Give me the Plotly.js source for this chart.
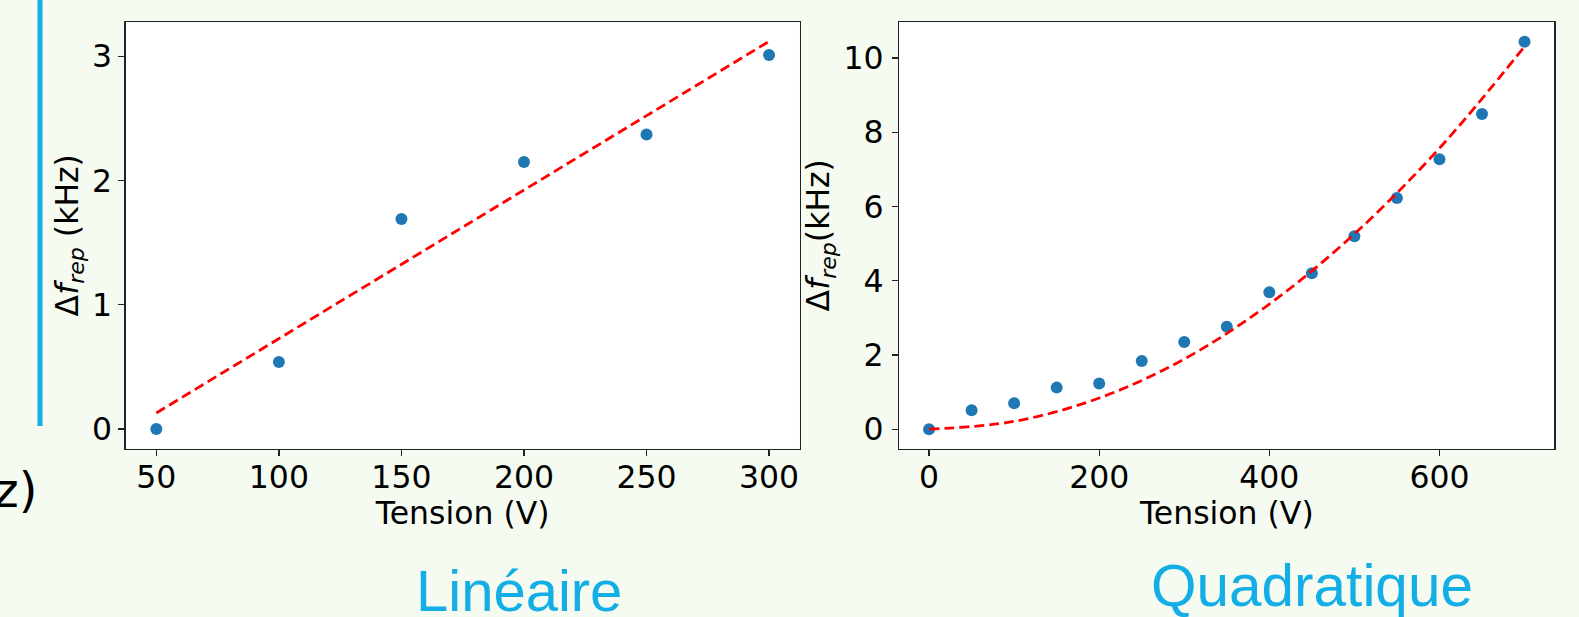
<!DOCTYPE html>
<html>
<head>
<meta charset="utf-8">
<script src="https://cdn.plot.ly/plotly-3.0.1.min.js"></script>
<style>
  html, body { margin: 0; padding: 0; background: #f5fbf1; }
  #chart { width: 1579px; height: 617px; }
</style>
</head>
<body>
<div id="chart"></div>
<script>
// Linear panel data
const linX = [50, 100, 150, 200, 250, 300];
const linY = [0.0, 0.54, 1.69, 2.15, 2.37, 3.01];
const linFitX = [50, 300];
const linFitY = [0.13, 3.12];

// Quadratic panel data
const quadX = [0, 50, 100, 150, 200, 250, 300, 350, 400, 450, 500, 550, 600, 650, 700];
const quadY = [0.0, 0.51, 0.70, 1.12, 1.23, 1.84, 2.35, 2.76, 3.69, 4.20, 5.20, 6.23, 7.27, 8.49, 10.44];
const quadFitX = [0, 100, 200, 300, 400, 500, 600, 700];
const quadFitY = [0.0, 0.21, 0.84, 1.89, 3.37, 5.26, 7.57, 10.31];

// Tick labels
const linXTicks = [50, 100, 150, 200, 250, 300];
const linYTicks = [0, 1, 2, 3];
const quadXTicks = [0, 200, 400, 600];
const quadYTicks = [0, 2, 4, 6, 8, 10];

const W = 1579, H = 617;
const px = v => v / W;
const py = v => 1 - v / H;

const markerStyle = { color: '#1f77b4', size: 12 };
const fitLine = { color: '#ff0000', width: 2.8, dash: '10px,5px' };

const traces = [
  { x: linX, y: linY, type: 'scatter', mode: 'markers', marker: markerStyle, xaxis: 'x', yaxis: 'y', hoverinfo: 'skip' },
  { x: linFitX, y: linFitY, type: 'scatter', mode: 'lines', line: fitLine, xaxis: 'x', yaxis: 'y', hoverinfo: 'skip' },
  { x: quadX, y: quadY, type: 'scatter', mode: 'markers', marker: markerStyle, xaxis: 'x2', yaxis: 'y2', hoverinfo: 'skip' },
  { x: quadFitX, y: quadFitY, type: 'scatter', mode: 'lines', line: Object.assign({}, fitLine, { shape: 'spline', smoothing: 1 }), xaxis: 'x2', yaxis: 'y2', hoverinfo: 'skip' }
];

const font = { family: 'DejaVu Sans', size: 31.5, color: '#000' };
const axisBase = {
  showgrid: false, zeroline: false, showline: true, mirror: true,
  linecolor: '#222', linewidth: 1.4,
  ticks: 'outside', ticklen: 6, tickwidth: 1.3, tickcolor: '#222',
  tickfont: font, automargin: false, fixedrange: true
};

const yDomain = [py(448.5), py(22)];

const layout = {
  width: W, height: H,
  margin: { l: 0, r: 0, t: 0, b: 0 },
  paper_bgcolor: '#f5fbf1',
  plot_bgcolor: '#ffffff',
  showlegend: false,
  font: font,
  xaxis: Object.assign({}, axisBase, {
    domain: [px(125.7), px(799.7)], range: [37.5, 312.5],
    tickvals: linXTicks, ticktext: linXTicks.map(String), ticklabelstandoff: -6,
    title: { text: 'Tension (V)', font: font, standoff: 2 }, anchor: 'y'
  }),
  yaxis: Object.assign({}, axisBase, {
    domain: yDomain, range: [-0.156, 3.276],
    tickvals: linYTicks, ticktext: linYTicks.map(String), ticklabelstandoff: 0,
    title: { text: 'Δ<i>f</i><sub><i>rep</i></sub> (kHz)', font: font, standoff: 4 }, anchor: 'x'
  }),
  xaxis2: Object.assign({}, axisBase, {
    domain: [px(899.3), px(1554.3)], range: [-35, 735],
    tickvals: quadXTicks, ticktext: quadXTicks.map(String), ticklabelstandoff: -6,
    title: { text: 'Tension (V)', font: font, standoff: 2 }, anchor: 'y2'
  }),
  yaxis2: Object.assign({}, axisBase, {
    domain: yDomain, range: [-0.52, 10.97],
    tickvals: quadYTicks, ticktext: quadYTicks.map(String), ticklabelstandoff: 2,
    title: { text: 'Δ<i>f</i><sub><i>rep</i></sub>(kHz)', font: font, standoff: 4 }, anchor: 'x2'
  }),
  shapes: [
    { type: 'line', xref: 'paper', yref: 'paper', x0: px(40), x1: px(40), y0: py(0), y1: py(426),
      line: { color: '#13aee6', width: 5 } }
  ],
  annotations: [
    { xref: 'paper', yref: 'paper', x: px(414), y: py(590), xanchor: 'left', yanchor: 'middle',
      text: 'Linéaire', showarrow: false,
      font: { family: 'Liberation Sans', size: 58, color: '#13aee6' } },
    { xref: 'paper', yref: 'paper', x: px(1149), y: py(585), xanchor: 'left', yanchor: 'middle',
      text: 'Quadratique', showarrow: false,
      font: { family: 'Liberation Sans', size: 58.5, color: '#13aee6' } },
    { xref: 'paper', yref: 'paper', x: px(40), y: py(490), xanchor: 'right', yanchor: 'middle',
      text: '(kHz)', showarrow: false,
      font: { family: 'DejaVu Sans', size: 48, color: '#000' } }
  ]
};

Plotly.newPlot('chart', traces, layout, { staticPlot: true, displayModeBar: false });
</script>
</body>
</html>
